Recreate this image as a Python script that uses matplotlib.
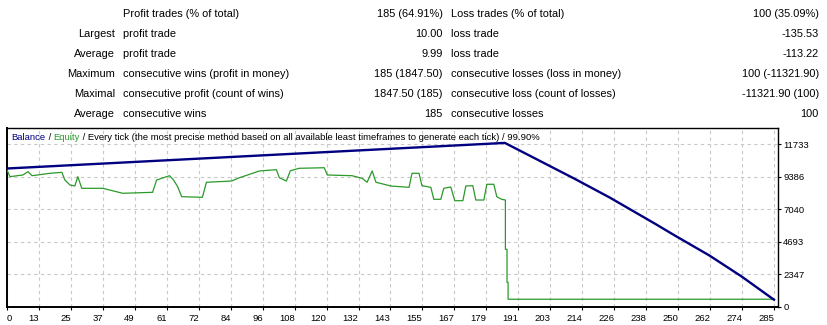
import numpy as np
import matplotlib
matplotlib.use('Agg')
from matplotlib import pyplot as plt

W, H = 828, 325

# --- summary table (text) ---
col1 = ['', 'Largest', 'Average', 'Maximum', 'Maximal', 'Average']
col2 = ['Profit trades (% of total)', 'profit trade', 'profit trade',
        'consecutive wins (profit in money)', 'consecutive profit (count of wins)',
        'consecutive wins']
col3 = ['185 (64.91%)', '10.00', '9.99', '185 (1847.50)', '1847.50 (185)', '185']
col4 = ['Loss trades (% of total)', 'loss trade', 'loss trade',
        'consecutive losses (loss in money)', 'consecutive loss (count of losses)',
        'consecutive losses']
col5 = ['100 (35.09%)', '-135.53', '-113.22', '100 (-11321.90)', '-11321.90 (100)', '100']

# --- chart data (trade number, money) ---
balance_t = [0, 185, 199, 211, 224, 241, 248, 261, 273, 285]
balance_v = [10000, 11847.5, 10450, 9250, 7900, 5990, 5180, 3720, 2200, 525.6]

equity_t = [0, 1.1, 5.9, 7.8, 9.3, 15.9, 20.4, 21.5, 23.4, 25.2, 26.3, 27.8, 35.6,
            43.0, 54.1, 55.6, 60.4, 61.9, 63.4, 64.9, 72.6, 74.1, 83.4, 86.4, 93.8,
            100.1, 101.2, 103.8, 105.3, 108.6, 117.9, 119.0, 128.2, 132.0, 133.8,
            135.7, 137.1, 142.7, 149.4, 150.5, 153.1, 154.2, 157.5, 158.6, 161.2,
            162.3, 164.9, 166.4, 169.4, 170.5, 173.1, 174.2, 177.2, 178.3, 180.9,
            182.0, 183.8, 185.2, 185.2, 185.8, 185.8, 186.2, 186.2, 285]
equity_v = [9890, 9410, 9530, 9770, 9480, 9650, 9725, 9170, 8810, 8735, 9410, 8570, 8570,
            8210, 8280, 9170, 9480, 9170, 8690, 7965, 7920, 9005, 9095, 9335, 9820,
            9915, 9335, 9095, 9840, 10015, 10055, 9530, 9480, 9290, 9005,
            9820, 9005, 8735, 8640, 9655, 9655, 8760, 8640, 7775, 7775,
            8570, 8665, 7675, 7675, 8735, 8760, 7725, 7725, 8860, 8860,
            7965, 7775, 7725, 4165, 4165, 1785, 1785, 560, 560]

xtick_labels = ['0', '13', '25', '37', '49', '61', '72', '84', '96', '108', '120', '132',
                '143', '155', '167', '179', '191', '203', '214', '226', '238', '250',
                '262', '274', '285']
ytick_labels = ['0', '2347', '4693', '7040', '9386', '11733']

plt.rcParams['font.family'] = ['Liberation Sans', 'DejaVu Sans']
FS = 7.9    # table text
FS2 = 6.8   # chart text

fig = plt.figure(figsize=(W / 100, H / 100), dpi=100)
fig.patch.set_facecolor('white')


def px(x, y):
    return x / W, 1 - y / H


# table
for i in range(6):
    y = 14 + 20 * i
    fig.text(*px(115, y), col1[i], ha='right', va='center', fontsize=FS)
    fig.text(*px(123, y), col2[i], ha='left', va='center', fontsize=FS)
    fig.text(*px(443, y), col3[i], ha='right', va='center', fontsize=FS)
    fig.text(*px(451, y), col4[i], ha='left', va='center', fontsize=FS)
    fig.text(*px(819, y), col5[i], ha='right', va='center', fontsize=FS)

ax = fig.add_axes([7 / W, 18 / H, 771 / W, 179 / H])
ax.plot(equity_t, equity_v, color='#2a9a2a', lw=0.9, zorder=3)
ax.plot(balance_t, balance_v, color='#000080', lw=1.7, zorder=4,
        solid_joinstyle='round')

ax.set_xlim(0, 286.5)
ax.set_ylim(0, 12924)

xt = np.linspace(0, 285, 25)
ax.set_xticks(xt)
ax.set_xticklabels(xtick_labels)
for k, lab in enumerate(ax.get_xticklabels()):
    lab.set_ha('left' if k == 0 else 'right')
yt = np.arange(6) * 2346.6
ax.set_yticks(yt)
ax.set_yticklabels(ytick_labels)
ax.yaxis.tick_right()
ax.tick_params(axis='both', labelsize=FS2, length=2.2, width=0.8, pad=1.5, colors='black')
ax.tick_params(axis='x', pad=2.5)

ax.grid(True, color='#c8c8c8', linestyle=(0, (3, 3)), linewidth=0.8)
for s in ax.spines.values():
    s.set_color('black')
    s.set_linewidth(1.0)
ax.spines['left'].set_linewidth(1.4)
ax.spines['bottom'].set_linewidth(1.4)

# header inside chart, multicolour
parts = [('Balance', '#000080'), (' / ', 'black'), ('Equity', '#2a9a2a'),
         (' / Every tick (the most precise method based on all available least '
          'timeframes to generate each tick) / 99.90%', 'black')]
t = ax.text(4.5 / 771, 1 - 9 / 179, parts[0][0], color=parts[0][1], fontsize=FS2,
            transform=ax.transAxes, va='center', ha='left')
for txt, c in parts[1:]:
    t = ax.annotate(txt, xy=(1, 0), xycoords=t, va='bottom', ha='left',
                    color=c, fontsize=FS2)

plt.savefig('out.png', dpi=100)
